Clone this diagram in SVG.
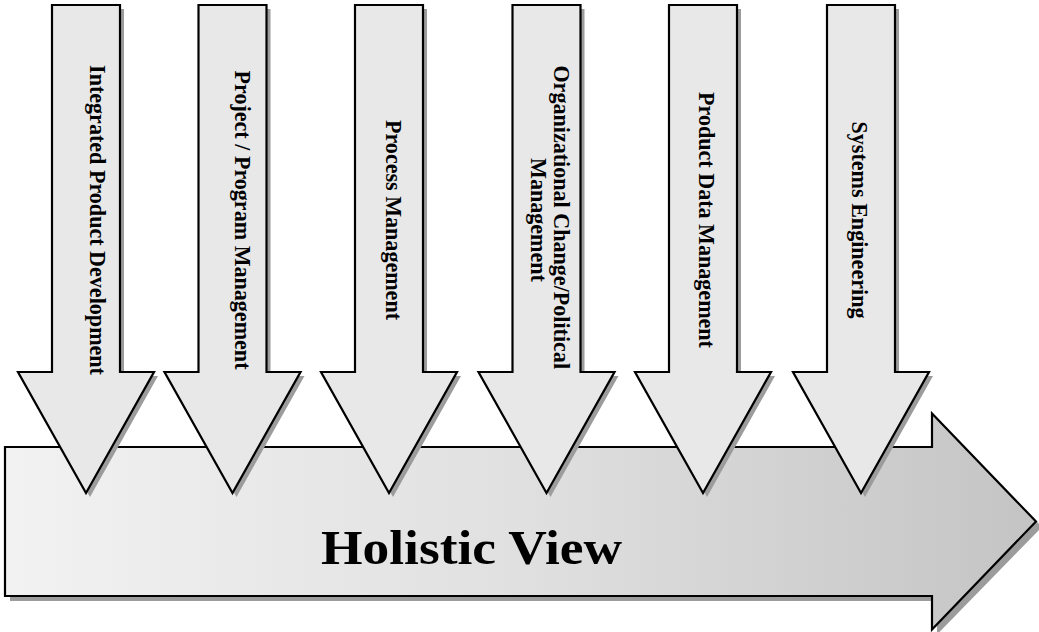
<svg xmlns="http://www.w3.org/2000/svg" xmlns:xlink="http://www.w3.org/1999/xlink" width="1039" height="632" viewBox="0 0 1039 632">
  <style>
    .arrow { fill: #e8e8e8; stroke: #000; stroke-width: 2.2; stroke-linejoin: miter; }
    .shadow { fill: #9c9c9c; stroke: none; }
    .big { fill: url(#bigGrad); stroke: #000; stroke-width: 2.2; }
    .lbl { font-family: "Liberation Serif", "Times New Roman", serif; font-weight: bold; font-size: 23.5px; fill: #000; text-anchor: middle; }
    .title { font-family: "Liberation Serif", "Times New Roman", serif; font-weight: bold; font-size: 49px; fill: #000; text-anchor: middle; }
  </style>
  <defs>
    <linearGradient id="bigGrad" x1="0" y1="0" x2="1" y2="0">
      <stop offset="0" stop-color="#f2f2f2"/>
      <stop offset="0.5" stop-color="#e0e0e0"/>
      <stop offset="1" stop-color="#c4c4c4"/>
    </linearGradient>
    <path id="down" d="M-34,5 H34 V372 H68 L0,493 L-68,372 H-34 Z"/>
  </defs>
  <rect width="1039" height="632" fill="#fff"/>

  <g id="holistic-view">
    <path class="shadow" d="M10,452 L937,452 L937,418.5 L1042,527 L937,634.5 L937,601 L10,601 Z"/>
    <path class="big" d="M5,447 L932,447 L932,413.5 L1036,521.5 L932,629.5 L932,596 L5,596 Z"/>
    <text class="title" x="471.5" y="564" textLength="301" lengthAdjust="spacingAndGlyphs">Holistic View</text>
  </g>

  <g id="integrated-product-development">
    <use href="#down" xlink:href="#down" class="shadow" transform="translate(90,4)"/>
    <use href="#down" xlink:href="#down" class="arrow" transform="translate(86,0)"/>
    <text class="lbl" transform="translate(89.5,220) rotate(90) scale(0.94,1)">Integrated Product Development</text>
  </g>

  <g id="project-program-management">
    <use href="#down" xlink:href="#down" class="shadow" transform="translate(236.5,4)"/>
    <use href="#down" xlink:href="#down" class="arrow" transform="translate(232.5,0)"/>
    <text class="lbl" transform="translate(235,220) rotate(90) scale(0.94,1)">Project / Program Management</text>
  </g>

  <g id="process-management">
    <use href="#down" xlink:href="#down" class="shadow" transform="translate(393,4)"/>
    <use href="#down" xlink:href="#down" class="arrow" transform="translate(389,0)"/>
    <text class="lbl" transform="translate(386,220) rotate(90) scale(0.94,1)">Process Management</text>
  </g>

  <g id="organizational-change">
    <use href="#down" xlink:href="#down" class="shadow" transform="translate(550.5,4)"/>
    <use href="#down" xlink:href="#down" class="arrow" transform="translate(546.5,0)"/>
    <text class="lbl" transform="translate(554,220) rotate(90) scale(0.94,1)">
      <tspan x="0" y="0">Organizational Change/Political</tspan>
      <tspan x="0" y="23">Management</tspan>
    </text>
  </g>

  <g id="product-data-management">
    <use href="#down" xlink:href="#down" class="shadow" transform="translate(707,4)"/>
    <use href="#down" xlink:href="#down" class="arrow" transform="translate(703,0)"/>
    <text class="lbl" transform="translate(699,220) rotate(90) scale(0.94,1)">Product Data Management</text>
  </g>

  <g id="systems-engineering">
    <use href="#down" xlink:href="#down" class="shadow" transform="translate(865,4)"/>
    <use href="#down" xlink:href="#down" class="arrow" transform="translate(861,0)"/>
    <text class="lbl" transform="translate(852,220) rotate(90) scale(0.94,1)">Systems Engineering</text>
  </g>

  <g id="connectors"></g>
</svg>
